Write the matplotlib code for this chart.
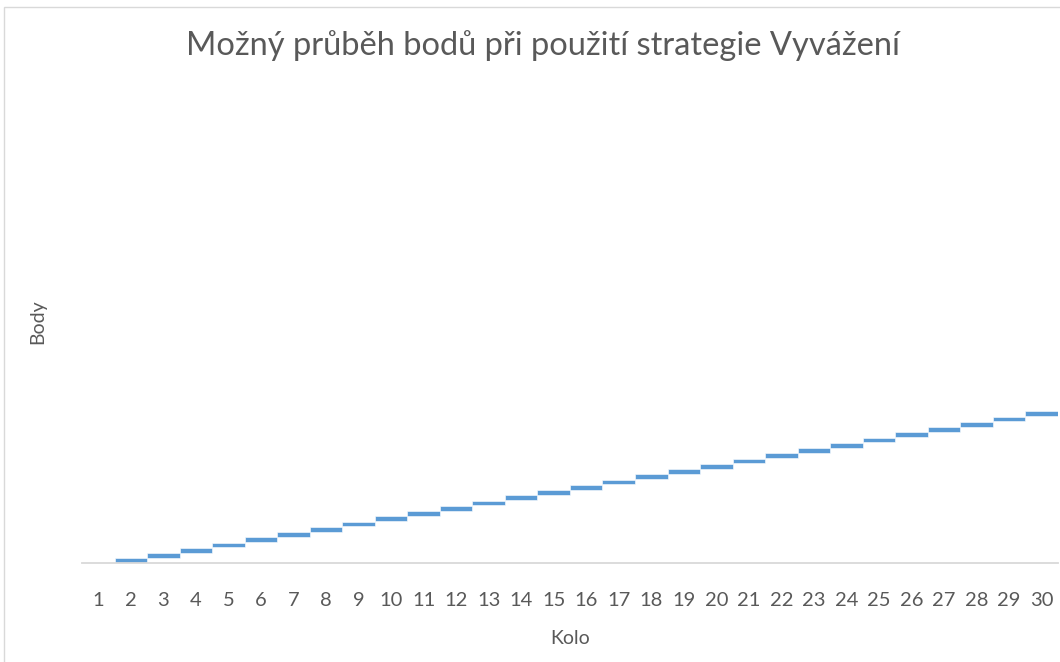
import numpy as np
import matplotlib.pyplot as plt
from matplotlib.patches import Rectangle

# rounds on the x axis
kolo = list(range(1, 31))
# floating segment per round: invisible base + visible step
base = [0] + list(range(0, 29))
step = [0] + [0.9] * 29

TITLE = "Možný průběh bodů při použití strategie Vyvážení"
BLUE = "#5b9bd5"
GREY = "#595959"

plt.rcParams["font.family"] = ["Lato", "DejaVu Sans"]

fig = plt.figure(figsize=(10.6, 6.62), dpi=100)
ax = fig.add_axes([0.0774, 0.1495, 0.9206, 0.7295])

ax.bar(kolo, step, bottom=base, width=1.0, color=BLUE,
       edgecolor="white", linewidth=0.4)

ax.set_xlim(0.5, 30.5)
ax.set_ylim(0, 92)
ax.set_xticks(kolo)
ax.set_xticklabels([str(k) for k in kolo], fontsize=14.5, color=GREY)
ax.tick_params(axis="x", length=0, pad=21)
ax.set_yticks([])

for s in ("top", "right", "left"):
    ax.spines[s].set_visible(False)
ax.spines["bottom"].set_color("#d9d9d9")
ax.spines["bottom"].set_linewidth(1.3)

ax.set_xlabel("Kolo", fontsize=14, color=GREY, labelpad=15)
ax.set_ylabel("Body", fontsize=14, color=GREY, labelpad=26)

fig.text(0.512, 0.931, TITLE, ha="center", va="center",
         fontsize=23.5, color=GREY)

# chart frame (left and top edges visible in the crop)
fig.add_artist(Rectangle((0.004, -0.01), 1.2, 1.0 - 0.011 + 0.01,
                         transform=fig.transFigure, fill=False,
                         edgecolor="#d9d9d9", linewidth=1.0))

fig.savefig("out.png", dpi=100)
